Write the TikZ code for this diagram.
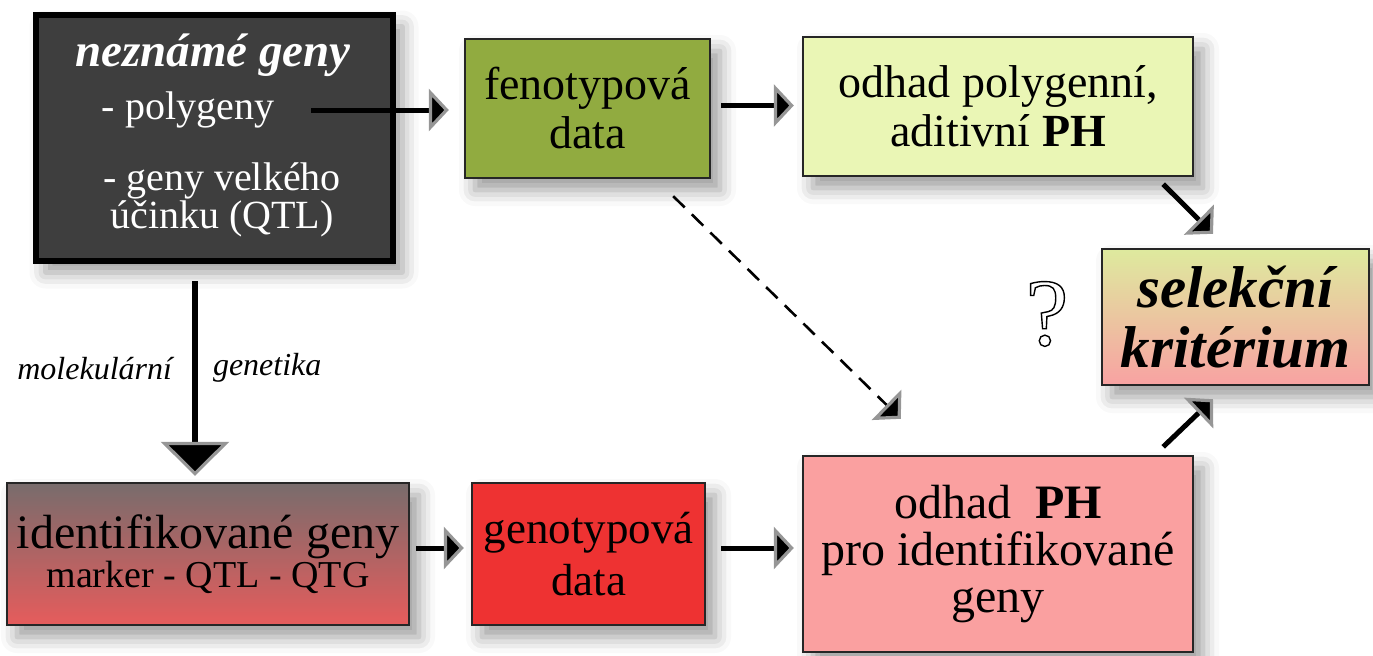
\documentclass[tikz,border=0pt]{standalone}
\usepackage{fontspec}
\setmainfont{Liberation Serif}
\usetikzlibrary{arrows.meta,shadows.blur}
\definecolor{darkbox}{RGB}{62,62,62}
\definecolor{fengreen}{RGB}{145,171,64}
\definecolor{polyellow}{RGB}{234,246,181}
\definecolor{seltop}{RGB}{222,234,158}
\definecolor{selmid}{RGB}{240,205,150}
\definecolor{selbot}{RGB}{248,162,162}
\definecolor{idgtop}{RGB}{120,108,108}
\definecolor{idgbot}{RGB}{230,92,92}
\definecolor{genred}{RGB}{238,50,50}
\definecolor{ophpink}{RGB}{250,160,160}
\definecolor{tipgray}{RGB}{150,150,150}
\newcommand{\outlinetext}[1]{\special{pdf:literal direct 1 Tr 0.7 w}#1\special{pdf:literal direct 0 Tr}}
\tikzset{
  box/.style={draw=black!85, line width=1.2pt, inner sep=0pt, align=center,
    blur shadow={shadow xshift=5pt, shadow yshift=-6pt, shadow blur radius=8pt, shadow opacity=40}},
  txt/.style={font=\fontsize{23}{24.5}\selectfont},
  plain/.style={inner sep=0pt},
  tipa/.style={-{Triangle[length=10pt,width=21pt,line width=1.6pt,color=tipgray,fill=black]}},
  conn/.style={line width=2.5pt, tipa},
}
\begin{document}
\begin{tikzpicture}[x=0.5pt,y=-0.5pt]
\useasboundingbox (0,0) rectangle (1373,655);

% boxes
\node[box, fill=darkbox, draw=black, line width=3pt, minimum width=178.5pt, minimum height=123pt] (unk) at (214,137.5) {};
\node[plain, text=white, font=\fontsize{23.5}{25}\selectfont\bfseries\itshape] (unkT) at (213,55) {neznámé geny};
\node[plain, text=white, font=\fontsize{20}{20}\selectfont] (poly) at (188,110) {- polygeny};
\node[plain, text=white, align=center, font=\fontsize{20}{17.5}\selectfont] (qtl) at (222,200) {- geny velkého\\účinku (QTL)};

\node[box, fill=fengreen, minimum width=122.5pt, minimum height=69.5pt, txt] (fen) at (587.5,108.5) {fenotypová\\data};
\node[box, fill=polyellow, minimum width=195pt, minimum height=69.5pt, txt] (pol) at (998,106.5) {odhad polygenní,\\aditivní \textbf{PH}};
\node[box, top color=seltop, middle color=selmid, bottom color=selbot, minimum width=133.5pt, minimum height=68pt,
  font=\fontsize{29.5}{30}\selectfont\bfseries\itshape] (sel) at (1235.5,317) {selekční\\kritérium};
\node[plain, font=\fontsize{48}{48}\selectfont] (q) at (1047,314) {\outlinetext{?}};

\node[box, top color=idgtop, bottom color=idgbot, minimum width=201pt, minimum height=71pt] (idg) at (208,554)
  {\fontsize{24}{23.5}\selectfont identifikované geny\\\fontsize{19}{23.5}\selectfont marker - QTL - QTG};
\node[box, fill=genred, minimum width=116.5pt, minimum height=71pt, font=\fontsize{22.5}{26}\selectfont] (gen) at (588.5,554) {genotypová\\data};
\node[box, fill=ophpink, minimum width=195pt, minimum height=98pt, font=\fontsize{24}{23.5}\selectfont] (oph) at (998,554)
  {odhad\ \ \textbf{PH}\\pro identifikované\\geny};

% connectors
\draw[conn, shorten <=18.5pt, shorten >=7.5pt] (poly.east) -- (poly.east -| fen.west);
\draw[conn, shorten <=5pt, shorten >=4pt] ([yshift=1.5pt]fen.east) -- ([yshift=1.5pt]fen.east -| pol.west);
\draw[conn] ([shift={(-31,7)}]pol.south east) -- ([shift={(-22.5,-14)}]sel.north);
\draw[conn] ([shift={(-31,-8)}]oph.north east) -- ([shift={(-22.5,13)}]sel.south);
\draw[line width=1.3pt, dash pattern=on 8pt off 5pt, tipa] ([shift={(-38,17)}]fen.south east) -- ([shift={(99,-36)}]oph.north west);
\draw[line width=3pt, -{Triangle[length=17pt,width=34pt,line width=1.6pt,color=tipgray,fill=black]}, shorten <=8.75pt, shorten >=3pt]
  ([xshift=-9.5pt]unk.south) -- ([xshift=-9.5pt]unk.south |- idg.north)
  node[pos=0.48, left=10pt, plain, font=\fontsize{16}{16}\selectfont\itshape] (molL) {molekulární}
  node[pos=0.48, right=7.5pt, plain, font=\fontsize{16}{16}\selectfont\itshape] (molR) {genetika};
\draw[conn, shorten <=3pt, shorten >=3.5pt] ([yshift=3pt]idg.east) -- ([yshift=3pt]idg.east -| gen.west);
\draw[conn, shorten <=7.5pt, shorten >=4pt] ([yshift=3pt]gen.east) -- ([yshift=3pt]gen.east -| oph.west);
\end{tikzpicture}
\end{document}
